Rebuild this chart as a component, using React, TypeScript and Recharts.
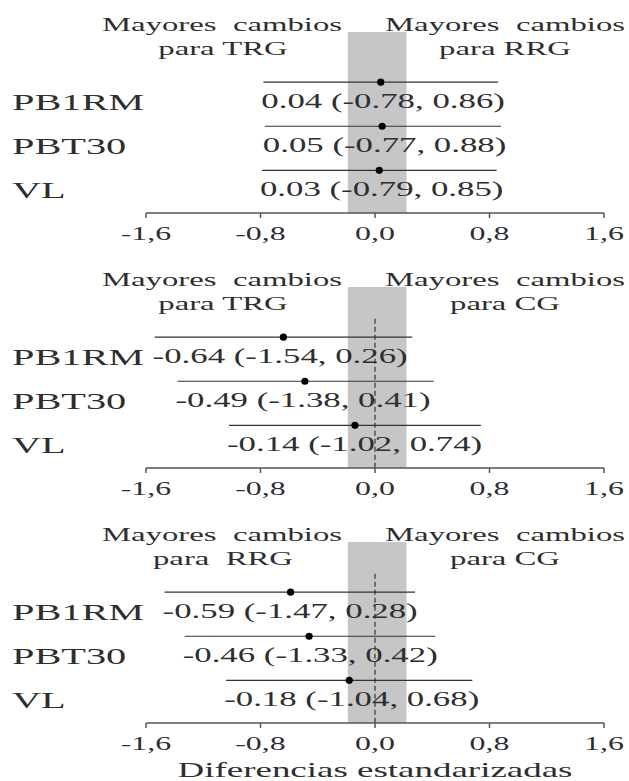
import React from 'react';
import {
  ScatterChart,
  Scatter,
  XAxis,
  YAxis,
  ErrorBar,
  ReferenceArea,
  ReferenceLine,
  Customized,
} from 'recharts';

// ---------- data ----------
const categories = ['PB1RM', 'PBT30', 'VL'];

const p1Est = [0.04, 0.05, 0.03];
const p1Low = [-0.78, -0.77, -0.79];
const p1High = [0.86, 0.88, 0.85];

const p2Est = [-0.64, -0.49, -0.14];
const p2Low = [-1.54, -1.38, -1.02];
const p2High = [0.26, 0.41, 0.74];

const p3Est = [-0.59, -0.46, -0.18];
const p3Low = [-1.47, -1.33, -1.04];
const p3High = [0.28, 0.42, 0.68];

const xTicks = [-1.6, -0.8, 0, 0.8, 1.6];
const xTickLabels = ['-1,6', '-0,8', '0,0', '0,8', '1,6'];
const band = [-0.19, 0.22];

const p1Headers = [['Mayores  cambios', 'para TRG'], ['Mayores  cambios', 'para RRG']];
const p2Headers = [['Mayores  cambios', 'para TRG'], ['Mayores  cambios', 'para CG']];
const p3Headers = [['Mayores  cambios', 'para  RRG'], ['Mayores  cambios', 'para CG']];

const xTitle = 'Diferencias estandarizadas';

// ---------- helpers ----------
const FONT = "'Liberation Serif', 'Times New Roman', Times, serif";
const TEXT = '#2e2e2e';

function SText({ x, y, anchor = 'start', size, sx = 1.68, children }: any) {
  return (
    <text
      transform={`translate(${x},${y}) scale(${sx},1)`}
      x={0}
      y={0}
      textAnchor={anchor}
      fontSize={size}
      fontFamily={FONT}
      fill={TEXT}
      style={{ whiteSpace: 'pre' }}
    >
      {children}
    </text>
  );
}

const fmt = (v: number) => v.toFixed(2);

function buildPoints(est: number[], low: number[], high: number[]) {
  return categories.map((c, i) => ({
    x: est[i],
    y: i + 1,
    err: [est[i] - low[i], high[i] - est[i]],
  }));
}

function buildLabels(est: number[], low: number[], high: number[]) {
  return categories.map((c, i) => ({
    x: low[i],
    y: i + 1,
    label: `${fmt(est[i])} (${fmt(low[i])}, ${fmt(high[i])})`,
  }));
}

const Y_DOMAIN: [number, number] = [-0.14, 3.97];

function Panel({ est, low, high, headers, dashed, height, title }: any) {
  const points = buildPoints(est, low, high);
  const labels = buildLabels(est, low, high);
  const xAxisHeight = height - 32 - 181;
  const Headers = () => (
    <g>
      <SText x={222} y={31} anchor="middle" size={19.5}>{headers[0][0]}</SText>
      <SText x={223} y={55} anchor="middle" size={19.5}>{headers[0][1]}</SText>
      <SText x={505} y={31} anchor="middle" size={19.5}>{headers[1][0]}</SText>
      <SText x={505} y={55} anchor="middle" size={19.5}>{headers[1][1]}</SText>
      {title ? (
        <SText x={375} y={height - 4} anchor="middle" size={22}>{title}</SText>
      ) : null}
    </g>
  );
  return (
    <ScatterChart
      width={629}
      height={height}
      margin={{ top: 32, right: 25, left: 0, bottom: 0 }}
    >
      <XAxis
        type="number"
        dataKey="x"
        domain={[-1.6, 1.6]}
        ticks={xTicks}
        allowDataOverflow
        height={xAxisHeight}
        axisLine={{ stroke: '#555', strokeWidth: 1.5 }}
        tickLine={{ stroke: '#555', strokeWidth: 1.5 }}
        tickSize={5}
        tickMargin={0}
        tick={(p: any) => {
          const idx = xTicks.indexOf(p.payload.value);
          return (
            <SText x={p.x} y={p.y + 22} anchor="middle" size={19}>
              {xTickLabels[idx]}
            </SText>
          );
        }}
      />
      <YAxis
        type="number"
        dataKey="y"
        domain={Y_DOMAIN}
        allowDataOverflow
        reversed
        ticks={[1, 2, 3]}
        width={146}
        axisLine={false}
        tickLine={false}
        tick={(p: any) => (
          <SText x={12} y={p.y + 28} anchor="start" size={24}>
            {categories[p.payload.value - 1]}
          </SText>
        )}
      />
      <ReferenceArea
        x1={band[0]}
        x2={band[1]}
        y1={Y_DOMAIN[0]}
        y2={Y_DOMAIN[1]}
        fill="#c6c6c6"
        fillOpacity={1}
        stroke="none"
      />
      {dashed ? (
        <ReferenceLine
          segment={[
            { x: 0, y: 0.58 },
            { x: 0, y: Y_DOMAIN[1] },
          ]}
          stroke="#333"
          strokeWidth={1.2}
          strokeDasharray="5 3"
        />
      ) : null}
      <Scatter
        data={points}
        isAnimationActive={false}
        shape={(p: any) => <circle cx={p.cx} cy={p.cy} r={3.6} fill="#000" />}
      >
        <ErrorBar
          dataKey="err"
          direction="x"
          width={0}
          stroke="#333"
          strokeWidth={1.2}
          isAnimationActive={false}
        />
      </Scatter>
      <Scatter
        data={labels}
        isAnimationActive={false}
        shape={(p: any) => (
          <SText x={p.cx - 2} y={p.cy + 26} anchor="start" size={20} sx={1.74}>
            {p.payload.label}
          </SText>
        )}
      />
      <Customized component={Headers} />
    </ScatterChart>
  );
}

export default function App() {
  return (
    <div style={{ position: 'absolute', left: 0, top: 0, width: 629, height: 781, background: '#fff' }}>
      <Panel est={p1Est} low={p1Low} high={p1High} headers={p1Headers} dashed={false} height={255} />
      <Panel est={p2Est} low={p2Low} high={p2High} headers={p2Headers} dashed={true} height={255} />
      <Panel est={p3Est} low={p3Low} high={p3High} headers={p3Headers} dashed={true} height={271} title={xTitle} />
    </div>
  );
}
